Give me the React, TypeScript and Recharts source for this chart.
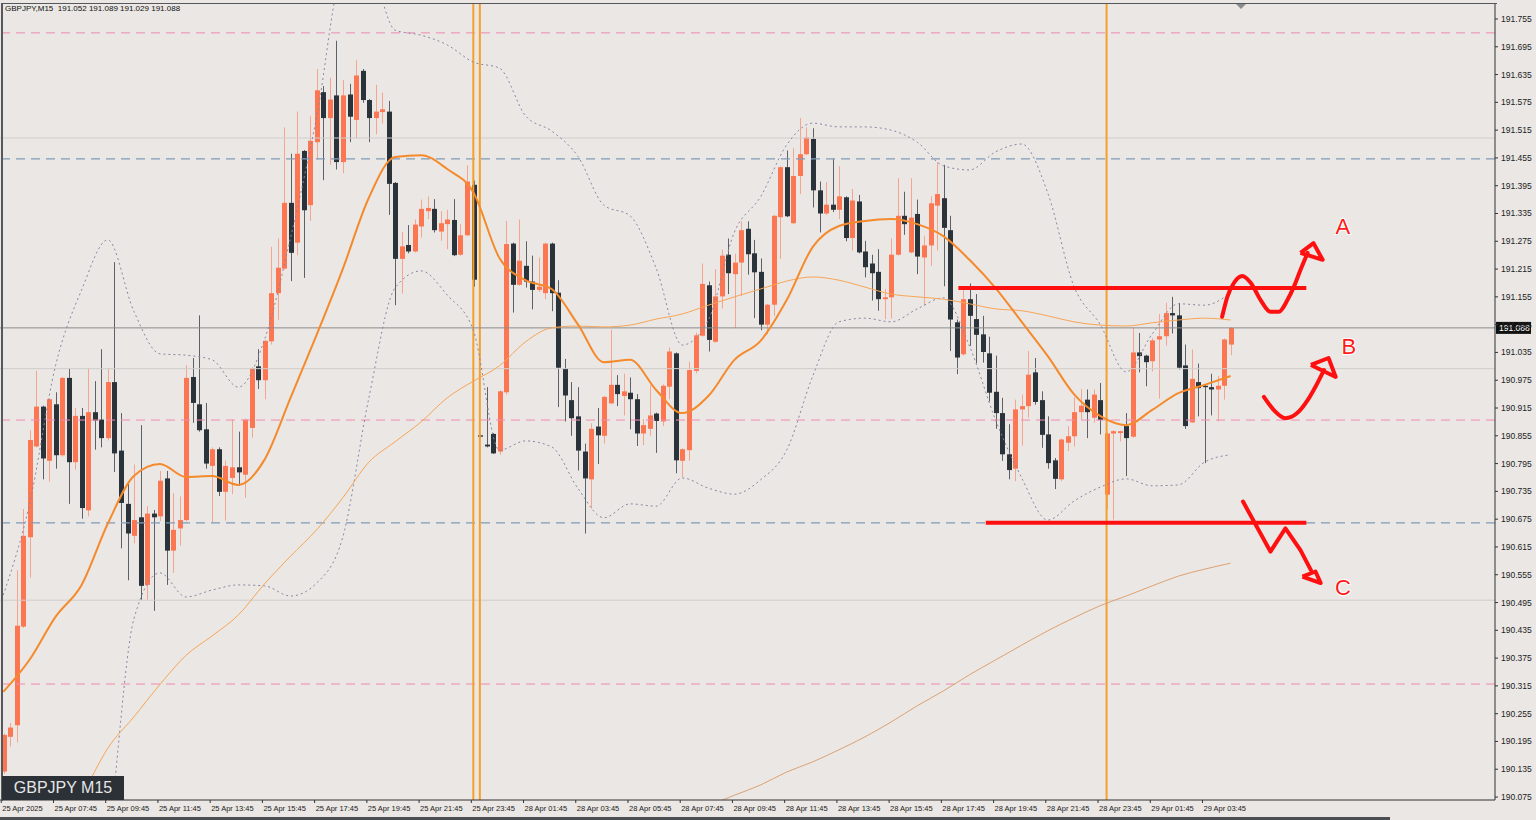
import React from "react";
import {
  ComposedChart,
  Bar,
  Line,
  Scatter,
  XAxis,
  YAxis,
  ReferenceLine,
} from "recharts";

// GBPJPY M15 candles
const opens = [
  190.130, 190.205, 190.230, 190.443, 190.636, 190.832, 190.918, 190.801, 190.923, 190.813,
  190.980, 190.798, 190.898, 190.694, 190.906, 190.890, 190.850, 190.971, 190.823, 190.708,
  190.639, 190.679, 190.533, 190.687, 190.681, 190.763, 190.607, 190.655, 190.673, 190.982,
  190.923, 190.869, 190.790, 190.826, 190.734, 190.764, 190.787, 190.771, 190.872, 191.005,
  190.975, 191.059, 191.163, 191.216, 191.358, 191.272, 191.470, 191.353, 191.489, 191.597,
  191.541, 191.590, 191.446, 191.592, 191.537, 191.643, 191.580, 191.541, 191.554, 191.555,
  191.401, 191.237, 191.267, 191.253, 191.307, 191.340, 191.345, 191.296, 191.312, 191.321,
  191.246, 191.288, 191.397, 190.856, 190.836, 190.859, 190.821, 190.949, 191.270, 191.181,
  191.222, 191.188, 191.170, 191.163, 191.270, 191.164, 191.000, 190.932, 190.897, 190.821,
  190.761, 190.875, 190.855, 190.925, 190.965, 190.941, 190.948, 190.934, 190.860, 190.870,
  190.903, 190.886, 190.961, 191.033, 190.801, 190.824, 190.995, 191.071, 191.180, 191.058,
  191.156, 191.246, 191.204, 191.229, 191.302, 191.249, 191.209, 191.095, 191.138, 191.327,
  191.435, 191.314, 191.416, 191.463, 191.496, 191.385, 191.335, 191.354, 191.343, 191.370,
  191.282, 191.361, 191.253, 191.227, 191.209, 191.150, 191.154, 191.246, 191.330, 191.251,
  191.334, 191.240, 191.266, 191.352, 191.368, 191.299, 191.100, 191.031, 191.150, 191.107,
  191.074, 191.033, 190.950, 190.904, 190.815, 190.784, 190.912, 190.919, 190.992, 190.932,
  190.858, 190.802, 190.761, 190.840, 190.854, 190.906, 190.933, 190.894, 190.932, 190.728,
  190.860, 190.861, 190.876, 190.853, 191.035, 191.028, 191.016, 191.063, 191.070, 191.120,
  191.115, 191.007, 190.884, 190.971, 190.963, 190.960, 190.955, 190.963, 191.052,
];
const highs = [
  190.212, 190.235, 190.565, 190.697, 190.867, 190.995, 190.920, 190.936, 190.949, 190.982,
  191.000, 190.915, 190.915, 191.000, 190.973, 191.042, 191.000, 191.230, 190.904, 190.756,
  190.793, 190.878, 190.703, 190.695, 190.779, 190.779, 190.731, 190.724, 191.007, 191.023,
  191.115, 190.926, 190.830, 190.830, 190.802, 190.890, 190.864, 190.892, 191.003, 191.042,
  191.062, 191.263, 191.281, 191.521, 191.464, 191.555, 191.472, 191.545, 191.647, 191.610,
  191.628, 191.708, 191.623, 191.615, 191.666, 191.647, 191.582, 191.613, 191.596, 191.578,
  191.403, 191.295, 191.310, 191.322, 191.365, 191.372, 191.366, 191.340, 191.343, 191.366,
  191.312, 191.439, 191.406, 190.858, 190.960, 190.861, 190.953, 191.319, 191.272, 191.322,
  191.275, 191.244, 191.240, 191.272, 191.272, 191.191, 191.021, 190.971, 190.960, 190.838,
  190.882, 190.915, 190.941, 191.084, 190.986, 190.989, 190.981, 190.945, 190.891, 190.964,
  190.905, 190.966, 191.046, 191.035, 190.828, 191.015, 191.078, 191.227, 191.188, 191.215,
  191.257, 191.281, 191.248, 191.318, 191.318, 191.278, 191.238, 191.140, 191.332, 191.437,
  191.471, 191.476, 191.541, 191.521, 191.519, 191.404, 191.403, 191.453, 191.437, 191.372,
  191.388, 191.375, 191.276, 191.246, 191.258, 191.172, 191.281, 191.411, 191.382, 191.411,
  191.365, 191.287, 191.372, 191.446, 191.440, 191.330, 191.106, 191.175, 191.184, 191.161,
  191.114, 191.069, 191.028, 190.937, 190.880, 190.933, 190.944, 191.038, 191.023, 190.951,
  190.897, 190.807, 190.849, 190.876, 190.938, 190.956, 190.955, 190.955, 190.969, 190.862,
  190.867, 190.866, 190.904, 191.089, 191.077, 191.030, 191.066, 191.118, 191.142, 191.155,
  191.142, 191.052, 191.041, 191.011, 190.965, 190.989, 190.984, 191.065, 191.089,
];
const lows = [
  190.125, 190.184, 190.193, 190.440, 190.549, 190.830, 190.761, 190.756, 190.784, 190.810,
  190.708, 190.782, 190.676, 190.681, 190.825, 190.830, 190.845, 190.777, 190.612, 190.543,
  190.623, 190.501, 190.501, 190.477, 190.671, 190.533, 190.559, 190.618, 190.670, 190.883,
  190.864, 190.784, 190.668, 190.725, 190.672, 190.729, 190.747, 190.721, 190.851, 190.956,
  190.934, 191.052, 191.105, 191.214, 191.189, 191.245, 191.196, 191.319, 191.452, 191.407,
  191.440, 191.430, 191.422, 191.489, 191.497, 191.574, 191.489, 191.506, 191.529, 191.332,
  191.137, 191.162, 191.249, 191.251, 191.283, 191.323, 191.294, 191.276, 191.258, 191.243,
  191.244, 191.286, 191.177, 190.851, 190.830, 190.816, 190.814, 190.944, 191.121, 191.179,
  191.175, 191.128, 191.166, 191.150, 191.124, 190.917, 190.886, 190.855, 190.780, 190.644,
  190.698, 190.794, 190.838, 190.923, 190.919, 190.899, 190.869, 190.833, 190.835, 190.855,
  190.818, 190.876, 190.934, 190.774, 190.766, 190.801, 190.990, 191.069, 191.037, 191.056,
  191.130, 191.161, 191.087, 191.157, 191.203, 191.109, 191.083, 191.074, 191.114, 191.237,
  191.327, 191.312, 191.377, 191.461, 191.348, 191.294, 191.332, 191.338, 191.323, 191.275,
  191.255, 191.249, 191.197, 191.147, 191.125, 191.107, 191.108, 191.244, 191.289, 191.249,
  191.204, 191.136, 191.222, 191.255, 191.178, 191.038, 190.988, 191.028, 191.049, 191.012,
  191.013, 190.929, 190.870, 190.801, 190.761, 190.757, 190.834, 190.894, 190.922, 190.829,
  190.784, 190.740, 190.757, 190.822, 190.832, 190.890, 190.850, 190.883, 190.858, 190.696,
  190.674, 190.843, 190.768, 190.851, 190.992, 190.962, 190.994, 190.935, 191.050, 191.076,
  190.998, 190.870, 190.883, 190.897, 190.796, 190.899, 190.886, 190.933, 191.029,
];
const closes = [
  190.209, 190.225, 190.445, 190.639, 190.846, 190.918, 190.806, 190.934, 190.813, 190.980,
  190.798, 190.898, 190.699, 190.906, 190.888, 190.850, 190.971, 190.817, 190.710, 190.644,
  190.673, 190.531, 190.687, 190.679, 190.758, 190.607, 190.652, 190.673, 190.980, 190.926,
  190.867, 190.795, 190.826, 190.734, 190.790, 190.787, 190.776, 190.890, 191.001, 190.975,
  191.060, 191.163, 191.218, 191.358, 191.250, 191.464, 191.342, 191.492, 191.601, 191.541,
  191.581, 191.446, 191.590, 191.544, 191.633, 191.580, 191.541, 191.555, 191.560, 191.399,
  191.237, 191.264, 191.253, 191.311, 191.345, 191.347, 191.299, 191.314, 191.322, 191.245,
  191.288, 191.404, 191.192, 190.853, 190.832, 190.817, 190.951, 191.269, 191.181, 191.233,
  191.188, 191.170, 191.177, 191.270, 191.163, 191.002, 190.942, 190.893, 190.823, 190.763,
  190.870, 190.856, 190.939, 190.965, 190.945, 190.951, 190.934, 190.860, 190.878, 190.899,
  190.887, 190.963, 191.037, 190.802, 190.826, 190.997, 191.072, 191.183, 191.062, 191.156,
  191.244, 191.206, 191.229, 191.299, 191.247, 191.208, 191.095, 191.138, 191.330, 191.435,
  191.329, 191.416, 191.463, 191.499, 191.385, 191.335, 191.354, 191.343, 191.372, 191.282,
  191.363, 191.251, 191.219, 191.206, 191.150, 191.154, 191.246, 191.330, 191.312, 191.326,
  191.242, 191.266, 191.357, 191.377, 191.304, 191.106, 191.024, 191.150, 191.114, 191.073,
  191.036, 190.948, 190.904, 190.815, 190.781, 190.912, 190.919, 190.987, 190.928, 190.857,
  190.796, 190.762, 190.847, 190.854, 190.906, 190.920, 190.906, 190.944, 190.889, 190.860,
  190.865, 190.865, 190.850, 191.035, 191.027, 191.014, 191.061, 191.070, 191.120, 191.115,
  191.002, 190.876, 190.978, 190.958, 190.960, 190.955, 190.963, 191.063, 191.088,
];

// indicator readings, one every 4 candles
const ma20 = [
  190.302, 190.371, 190.464, 190.533, 190.665, 190.768, 190.794, 190.766, 190.768, 190.749,
  190.803, 190.937, 191.073, 191.215, 191.369, 191.457, 191.461, 191.431, 191.381, 191.239,
  191.191, 191.172, 191.096, 191.014, 191.019, 190.954, 190.904, 190.941, 191.019, 191.060,
  191.148, 191.263, 191.308, 191.319, 191.323, 191.312, 191.286, 191.235, 191.174, 191.101,
  191.027, 190.945, 190.898, 190.878, 190.911, 190.947, 190.965, 190.984,
];
const bbUpper = [
  190.511, 190.706, 191.006, 191.170, 191.278, 191.124, 191.032, 191.029, 191.019, 190.960,
  191.062, 191.282, 191.543, 191.850, 191.861, 191.731, 191.720, 191.699, 191.662, 191.649,
  191.546, 191.513, 191.459, 191.353, 191.330, 191.217, 191.051, 191.105, 191.295, 191.371,
  191.483, 191.530, 191.522, 191.522, 191.515, 191.489, 191.438, 191.429, 191.468, 191.485,
  191.379, 191.178, 191.096, 190.993, 191.075, 191.140, 191.137, 191.163,
];
// from candle 12
const bbLower = [
  189.637, 189.969, 190.459, 190.559, 190.507, 190.522, 190.533, 190.531, 190.509, 190.537,
  190.636, 190.937, 191.174, 191.211, 191.159, 191.083, 190.824, 190.844, 190.831, 190.742,
  190.678, 190.708, 190.703, 190.764, 190.742, 190.729, 190.760, 190.824, 190.984, 191.101,
  191.109, 191.101, 191.129, 191.153, 191.049, 190.889, 190.764, 190.673, 190.714, 190.744,
  190.762, 190.747, 190.749, 190.798, 190.814,
];
// from candle 12
const ma100 = [
  190.073, 190.180, 190.248, 190.318, 190.381, 190.423, 190.468, 190.535, 190.595, 190.652,
  190.721, 190.798, 190.842, 190.885, 190.937, 190.973, 191.006, 191.058, 191.088, 191.092,
  191.090, 191.094, 191.107, 191.118, 191.137, 191.155, 191.172, 191.189, 191.198, 191.191,
  191.176, 191.161, 191.155, 191.150, 191.140, 191.129, 191.125, 191.114, 191.101, 191.094,
  191.092, 191.099, 191.105, 191.109, 191.105,
];
// from candle 108
const ma200 = [
  190.056, 190.079, 190.101, 190.129, 190.151, 190.177, 190.205, 190.237, 190.272, 190.304,
  190.339, 190.371, 190.403, 190.434, 190.462, 190.488, 190.509, 190.531, 190.552, 190.567,
  190.580,
];

const timeLabels = [
  "25 Apr 2025", "25 Apr 07:45", "25 Apr 09:45", "25 Apr 11:45", "25 Apr 13:45", "25 Apr 15:45",
  "25 Apr 17:45", "25 Apr 19:45", "25 Apr 21:45", "25 Apr 23:45", "28 Apr 01:45", "28 Apr 03:45",
  "28 Apr 05:45", "28 Apr 07:45", "28 Apr 09:45", "28 Apr 11:45", "28 Apr 13:45", "28 Apr 15:45",
  "28 Apr 17:45", "28 Apr 19:45", "28 Apr 21:45", "28 Apr 23:45", "29 Apr 01:45", "29 Apr 03:45",
];
const timeTickIdx = timeLabels.map((_, k) => k * 8);

const priceTicks = [
  190.075, 190.135, 190.195, 190.255, 190.315, 190.375, 190.435, 190.495, 190.555, 190.615,
  190.675, 190.735, 190.795, 190.855, 190.915, 190.975, 191.035, 191.095, 191.155, 191.215,
  191.275, 191.335, 191.395, 191.455, 191.515, 191.575, 191.635, 191.695, 191.755,
];

// horizontal levels on the chart
const pinkLevels = [191.725, 190.889, 190.319];
const blueLevels = [191.453, 190.667];
const grayLevels = [191.498, 191.0, 190.5];
const sessionLines = [72, 73, 169];

// hand drawn scenarios (x in candle slots)
const levelA = [{ x: 146.3, y: 191.174 }, { x: 199.6, y: 191.174 }];
const levelC = [{ x: 150.5, y: 190.667 }, { x: 199.6, y: 190.667 }];
const pathA = [
  { x: 186.7, y: 191.112 }, { x: 187.5, y: 191.155 }, { x: 188.5, y: 191.185 }, { x: 189.8, y: 191.2 },
  { x: 191.1, y: 191.185 }, { x: 192.6, y: 191.148 }, { x: 194.1, y: 191.123 }, { x: 195.4, y: 191.123 },
  { x: 196.7, y: 191.148 }, { x: 197.7, y: 191.177 }, { x: 198.7, y: 191.213 }, { x: 199.8, y: 191.25 },
];
const headA = [{ x: 198.7, y: 191.25 }, { x: 200.7, y: 191.271 }, { x: 202.1, y: 191.235 }, { x: 198.7, y: 191.25 }];
const pathB = [
  { x: 193.1, y: 190.939 }, { x: 194.6, y: 190.911 }, { x: 196.4, y: 190.893 }, { x: 198.2, y: 190.904 },
  { x: 199.8, y: 190.932 }, { x: 201.0, y: 190.961 }, { x: 202.3, y: 190.997 },
];
const headB = [{ x: 200.3, y: 191.008 }, { x: 203.0, y: 191.023 }, { x: 204.1, y: 190.982 }, { x: 200.3, y: 191.008 }];
const pathC = [
  { x: 189.9, y: 190.713 }, { x: 194.1, y: 190.605 }, { x: 196.4, y: 190.655 }, { x: 198.7, y: 190.608 },
  { x: 200.3, y: 190.565 },
];
const headC = [{ x: 199.0, y: 190.551 }, { x: 201.0, y: 190.562 }, { x: 201.8, y: 190.537 }, { x: 199.0, y: 190.551 }];
const letters = [
  { t: "A", x: 205.2, y: 191.306 },
  { t: "B", x: 206.1, y: 191.047 },
  { t: "C", x: 205.2, y: 190.528 },
];

const SLOTS = 229;
const Y_MIN = 190.0686;
const Y_MAX = 191.7895;
const FONT = "Liberation Sans, Arial, sans-serif";

const rows: any[] = Array.from({ length: SLOTS }, (_, i) => {
  const r: any = { i };
  if (i < closes.length) {
    r.o = opens[i];
    r.h = highs[i];
    r.l = lows[i];
    r.c = closes[i];
    r.range = [lows[i], highs[i]];
  }
  return r;
});
const put = (key: string, start: number, vals: number[]) =>
  vals.forEach((v, k) => {
    rows[start + k * 4][key] = v;
  });
put("ma20", 0, ma20);
put("bbUp", 0, bbUpper);
put("bbLo", 12, bbLower);
put("ma100", 12, ma100);
put("ma200", 108, ma200);

const Candle = (props: any) => {
  const { x, y, width, height, payload } = props;
  if (!payload || payload.o == null) return null;
  const { o, h, l, c } = payload;
  const top = Math.min(y, y + height);
  const span = Math.abs(height);
  const k = h > l ? span / (h - l) : 0;
  const yo = top + (h - o) * k;
  const yc = top + (h - c) * k;
  const cx = Math.round(x + width / 2) + 0.5;
  const up = c >= o;
  return (
    <g>
      <line x1={cx} x2={cx} y1={top} y2={top + span} stroke={up ? "#f6a48d" : "#5b6166"} strokeWidth={1} />
      <rect
        x={cx - 2.5}
        y={Math.min(yo, yc)}
        width={5}
        height={Math.max(1, Math.abs(yo - yc))}
        fill={up ? "#fd7652" : "#2b333a"}
      />
    </g>
  );
};

const PriceTick = ({ x, y, payload }: any) => (
  <text x={x} y={y} dy={3} fontSize={8.5} fontFamily={FONT} fill="#222">
    {Number(payload.value).toFixed(3)}
  </text>
);

const TimeTick = ({ x, y, payload }: any) => {
  const label = timeLabels[timeTickIdx.indexOf(payload.value)];
  return (
    <g>
      <line x1={x - 2} x2={x - 2} y1={y} y2={y + 3} stroke="#333" />
      <text x={x - 1} y={y + 11} fontSize={7.5} fontFamily={FONT} fill="#222">
        {label}
      </text>
    </g>
  );
};

const BidTag = (props: any) => {
  const vb = props.viewBox || {};
  const x0 = vb.x + vb.width;
  return (
    <g>
      <rect x={x0 + 1} y={vb.y - 6} width={35} height={12} fill="#111" />
      <text x={x0 + 4} y={vb.y + 3} fontSize={8.5} fontFamily={FONT} fill="#fff">
        {closes[closes.length - 1].toFixed(3)}
      </text>
    </g>
  );
};

const LetterShape = (p: any) => (
  <text
    x={p.cx}
    y={p.cy}
    textAnchor="middle"
    dominantBaseline="central"
    fontSize={22}
    fontFamily={FONT}
    fill="#ff1a1a"
    stroke="#ffffff"
    strokeWidth={2}
    paintOrder="stroke"
  >
    {p.payload.t}
  </text>
);

const RED = "#ff1010";

export default function App() {
  return (
    <div
      style={{
        position: "absolute",
        left: 0,
        top: 0,
        width: 1536,
        height: 820,
        background: "#eae7e4",
        overflow: "hidden",
      }}
    >
      <ComposedChart
        width={1536}
        height={820}
        data={rows}
        margin={{ top: 3, right: 0, bottom: 0, left: 0 }}
        barCategoryGap={0}
      >
        <XAxis
          dataKey="i"
          ticks={timeTickIdx}
          interval={0}
          height={20}
          tickLine={false}
          tickSize={0}
          tickMargin={0}
          axisLine={{ stroke: "#333" }}
          tick={<TimeTick />}
        />
        <XAxis xAxisId="n" type="number" dataKey="x" domain={[-0.5, SLOTS - 0.5]} hide allowDataOverflow />
        <YAxis
          orientation="right"
          width={41}
          domain={[Y_MIN, Y_MAX]}
          allowDataOverflow
          ticks={priceTicks}
          interval={0}
          tickSize={3}
          tickMargin={3}
          tickLine={{ stroke: "#333" }}
          axisLine={{ stroke: "#333" }}
          tick={<PriceTick />}
        />

        {grayLevels.map((v) => (
          <ReferenceLine key={"g" + v} y={v} stroke="#d0cdcb" strokeWidth={1} />
        ))}
        {pinkLevels.map((v) => (
          <ReferenceLine key={"p" + v} y={v} stroke="#f28ab2" strokeDasharray="9 6" strokeWidth={1} />
        ))}
        {blueLevels.map((v) => (
          <ReferenceLine key={"b" + v} y={v} stroke="#7f9bb8" strokeDasharray="9 6" strokeWidth={1.2} />
        ))}
        {sessionLines.map((v) => (
          <ReferenceLine key={"s" + v} x={v} stroke="#f5a02c" strokeWidth={2} />
        ))}
        <ReferenceLine y={closes[closes.length - 1]} stroke="#8c8c8c" strokeWidth={1} label={BidTag} />

        <Bar dataKey="range" shape={Candle} isAnimationActive={false} />

        <Line dataKey="bbUp" type="monotone" stroke="#8985a6" strokeDasharray="2 3" strokeWidth={1} dot={false} connectNulls isAnimationActive={false} />
        <Line dataKey="bbLo" type="monotone" stroke="#8985a6" strokeDasharray="2 3" strokeWidth={1} dot={false} connectNulls isAnimationActive={false} />
        <Line dataKey="ma200" type="monotone" stroke="#dca274" strokeWidth={1} dot={false} connectNulls isAnimationActive={false} />
        <Line dataKey="ma100" type="monotone" stroke="#f8a555" strokeWidth={1} dot={false} connectNulls isAnimationActive={false} />
        <Line dataKey="ma20" type="monotone" stroke="#f58a2c" strokeWidth={2} dot={false} connectNulls isAnimationActive={false} />

        <Line xAxisId="n" data={levelA} dataKey="y" type="linear" stroke={RED} strokeWidth={4} dot={false} isAnimationActive={false} />
        <Line xAxisId="n" data={levelC} dataKey="y" type="linear" stroke={RED} strokeWidth={4} dot={false} isAnimationActive={false} />
        <Line xAxisId="n" data={pathA} dataKey="y" type="monotone" stroke={RED} strokeWidth={4} strokeLinecap="round" dot={false} isAnimationActive={false} />
        <Line xAxisId="n" data={headA} dataKey="y" type="linear" stroke={RED} strokeWidth={4} strokeLinejoin="round" dot={false} isAnimationActive={false} />
        <Line xAxisId="n" data={pathB} dataKey="y" type="monotone" stroke={RED} strokeWidth={4} strokeLinecap="round" dot={false} isAnimationActive={false} />
        <Line xAxisId="n" data={headB} dataKey="y" type="linear" stroke={RED} strokeWidth={4} strokeLinejoin="round" dot={false} isAnimationActive={false} />
        <Line xAxisId="n" data={pathC} dataKey="y" type="linear" stroke={RED} strokeWidth={4} strokeLinecap="round" strokeLinejoin="round" dot={false} isAnimationActive={false} />
        <Line xAxisId="n" data={headC} dataKey="y" type="linear" stroke={RED} strokeWidth={4} strokeLinejoin="round" dot={false} isAnimationActive={false} />
        <Scatter xAxisId="n" data={letters} dataKey="y" shape={LetterShape} isAnimationActive={false} />
      </ComposedChart>

      {/* plot frame, top and left */}
      <div
        style={{
          position: "absolute",
          left: 1,
          top: 3,
          width: 1494,
          height: 797,
          borderLeft: "2px solid #55595d",
          borderTop: "1px solid #55595d",
          pointerEvents: "none",
        }}
      />
      {/* chart shift marker */}
      <div
        style={{
          position: "absolute",
          left: 1236,
          top: 4,
          width: 0,
          height: 0,
          borderLeft: "5px solid transparent",
          borderRight: "5px solid transparent",
          borderTop: "5px solid #8a8d90",
        }}
      />
      <div
        style={{
          position: "absolute",
          left: 5,
          top: 4,
          fontFamily: FONT,
          fontSize: 8,
          color: "#111",
          whiteSpace: "pre",
        }}
      >
        {"GBPJPY,M15  191.052 191.089 191.029 191.088"}
      </div>
      <div
        style={{
          position: "absolute",
          left: 2,
          top: 776,
          width: 122,
          height: 24,
          background: "#2b3136",
          color: "#e6e6e6",
          fontFamily: FONT,
          fontSize: 16,
          lineHeight: "24px",
          textAlign: "center",
        }}
      >
        GBPJPY M15
      </div>
      <div
        style={{
          position: "absolute",
          left: 0,
          top: 817,
          width: 1390,
          height: 3,
          background: "#4b4f53",
        }}
      />
    </div>
  );
}
